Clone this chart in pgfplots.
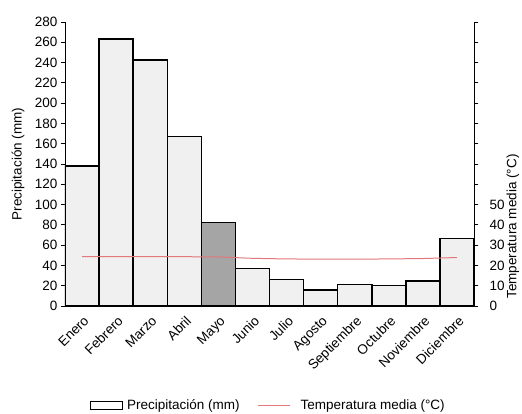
\documentclass[border=0pt]{standalone}
\usepackage{fontspec}
\setmainfont{Liberation Sans}
\usepackage{pgfplots}
\pgfplotsset{compat=1.18}
\definecolor{barfill}{RGB}{240,240,240}
\definecolor{mayfill}{RGB}{165,165,165}
\definecolor{templine}{RGB}{228,120,120}
\newcommand{\fs}{\fontsize{13.5bp}{15bp}\selectfont}
\begin{document}
\begin{tikzpicture}
\useasboundingbox (-65bp,-108bp) rectangle (457bp,306bp);
\begin{axis}[
  at={(0,0)}, anchor=south west,
  scale only axis, width=409bp, height=284bp,
  xmin=-0.5, xmax=11.5, ymin=0, ymax=280,
  axis x line*=bottom, axis y line*=left,
  axis line style={line width=0.8bp},
  xtick={0,...,11},
  xticklabels={Enero,Febrero,Marzo,Abril,Mayo,Junio,Julio,Agosto,Septiembre,Octubre,Noviembre,Diciembre},
  x tick label style={rotate=45, anchor=north east, font=\fs, inner sep=1bp, yshift=-3bp, xshift=-2bp},
  major x tick style={draw=none},
  ytick={0,20,...,280},
  y tick label style={font=\fs},
  /pgf/number format/assume math mode=true,
  tick align=outside, major tick length=4bp,
  tick style={line width=0.8bp, black},
  ylabel={Precipitación (mm)},
  every axis y label/.style={at={([xshift=-47bp]rel axis cs:0,0.5)}, rotate=90, anchor=center, font=\fs},
]
\addplot[ybar, bar width=1, bar shift=0, fill=barfill, draw=black, line width=1.5bp] coordinates {
(0,138) (1,263) (2,242.5) (3,167) (5,37) (6,26) (7,16) (8,21) (9,20) (10,24.5) (11,66.5)};
\addplot[ybar, bar width=1, bar shift=0, fill=mayfill, draw=black, line width=1.5bp] coordinates {(4,82.5)};
\end{axis}
\begin{axis}[
  at={(0,0)}, anchor=south west,
  scale only axis, width=409bp, height=284bp,
  xmin=-0.5, xmax=11.5, ymin=0, ymax=140,
  hide x axis,
  axis y line*=right,
  axis line style={line width=0.8bp},
  ytick={0,10,...,140},
  yticklabels={0,10,20,30,40,50,,,,,,,,,},
  y tick label style={font=\fs, xshift=8bp},
  /pgf/number format/assume math mode=true,
  tick align=outside, major tick length=4bp,
  tick style={line width=0.8bp, black},
  ylabel={Temperatura media (°C)},
  every axis y label/.style={at={([xshift=39bp]rel axis cs:1,0.28)}, rotate=90, anchor=center, font=\fs},
  legend style={at={(rel axis cs:0.497,-0.349)}, anchor=center, draw=none, fill=none, font=\fs, legend columns=2, column sep=2bp, /tikz/every even column/.append style={column sep=16bp}},
  legend cell align=left,
]
\addlegendimage{legend image code/.code={\draw[line width=1.2bp, fill=white] (0bp,-4bp) rectangle (32bp,4bp);}}
\addlegendentry{Precipitación (mm)}
\addplot[color=templine, line width=1bp, mark=none, legend image code/.code={\draw[templine, line width=1bp] (0bp,0bp) -- (32bp,0bp); \path (38bp,0bp);}] coordinates {
(0,24.3) (1,24.3) (2,24.3) (3,24.3) (4,24.2) (5,23.5) (6,23.2) (7,23.1) (8,23.1) (9,23.2) (10,23.4) (11,23.9)};
\addlegendentry{Temperatura media (°C)}
\end{axis}
\end{tikzpicture}
\end{document}
